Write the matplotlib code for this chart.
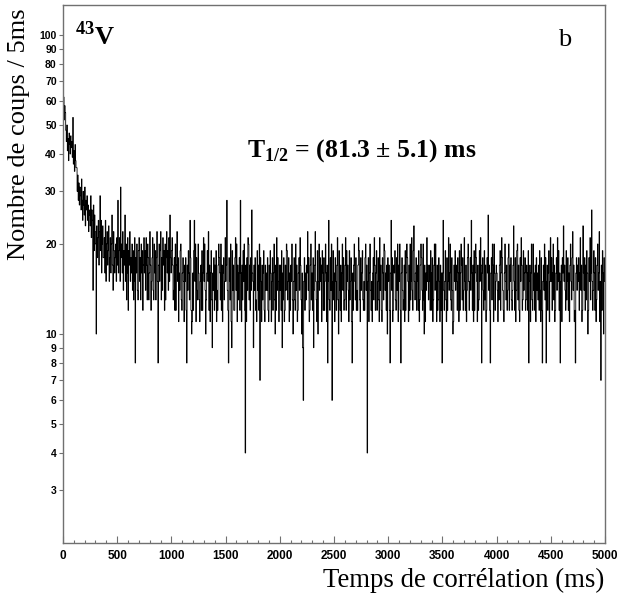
import numpy as np
import matplotlib
matplotlib.use('Agg')
import matplotlib.pyplot as plt
from matplotlib.ticker import FixedLocator, MultipleLocator

plt.rcParams['mathtext.fontset'] = 'custom'
plt.rcParams['mathtext.rm'] = 'Liberation Serif'
plt.rcParams['mathtext.bf'] = 'Liberation Serif:bold'

# counts per 5 ms bin (25 bins = 125 ms per row)
counts = [
    60, 62, 52, 58, 55, 48, 44, 50, 41, 45, 38, 47, 43, 40, 46, 42, 44, 39, 53, 37, 41, 35, 43, 38, 36,
    36, 30, 34, 28, 32, 27, 31, 29, 26, 33, 28, 24, 30, 27, 25, 31, 23, 28, 26, 29, 24, 27, 22, 25, 26,
    23, 29, 21, 26, 24, 14, 27, 19, 25, 22, 20, 10, 23, 18, 21, 24, 17, 22, 29, 19, 24, 16, 20, 23, 18,
    18, 21, 16, 24, 15, 20, 22, 17, 19, 23, 15, 18, 21, 16, 20, 25, 17, 14, 22, 19, 16, 18, 20, 15, 21,
    17, 28, 16, 19, 21, 15, 31, 18, 20, 16, 22, 14, 19, 17, 25, 15, 20, 13, 16, 21, 12, 19, 17, 22, 15,
    18, 16, 20, 14, 19, 13, 15, 21, 8, 18, 16, 20, 14, 13, 19, 21, 15, 18, 13, 20, 16, 19, 12, 17, 21,
    16, 19, 14, 21, 17, 13, 20, 18, 13, 16, 22, 17, 12, 15, 18, 21, 14, 13, 20, 16, 19, 13, 18, 22, 15,
    8, 17, 20, 15, 19, 22, 13, 18, 14, 21, 17, 19, 12, 20, 13, 18, 22, 16, 19, 14, 21, 15, 25, 18, 16,
    19, 21, 17, 13, 14, 18, 12, 20, 12, 17, 22, 15, 18, 11, 16, 14, 19, 20, 13, 12, 16, 18, 15, 11, 17,
    15, 18, 12, 8, 17, 14, 19, 16, 13, 24, 18, 12, 10, 11, 16, 12, 19, 24, 15, 20, 11, 18, 14, 13, 20,
    16, 13, 11, 15, 17, 12, 19, 12, 16, 21, 15, 20, 14, 10, 13, 16, 19, 15, 22, 12, 17, 11, 16, 19, 13,
    9, 16, 14, 18, 12, 17, 13, 19, 11, 14, 12, 17, 20, 18, 16, 13, 20, 12, 17, 11, 16, 18, 13, 15, 21,
    15, 17, 28, 14, 12, 8, 18, 15, 13, 20, 11, 9, 19, 14, 17, 12, 12, 18, 21, 14, 20, 11, 17, 13, 16,
    18, 12, 28, 16, 11, 17, 13, 19, 15, 20, 12, 4, 17, 11, 18, 14, 21, 20, 13, 17, 12, 18, 14, 26, 16,
    15, 9, 17, 14, 18, 12, 13, 11, 19, 14, 17, 12, 20, 7, 18, 15, 11, 17, 13, 16, 19, 12, 11, 17, 14,
    16, 14, 18, 12, 11, 17, 13, 19, 16, 11, 15, 18, 12, 16, 20, 13, 10, 17, 12, 21, 14, 18, 15, 11, 17,
    14, 17, 12, 19, 9, 16, 13, 18, 11, 12, 17, 14, 20, 19, 13, 15, 18, 11, 16, 12, 17, 15, 20, 13, 10,
    15, 18, 13, 12, 20, 14, 17, 11, 12, 16, 18, 14, 21, 17, 13, 10, 16, 9, 6, 15, 18, 12, 16, 13, 17,
    16, 22, 14, 18, 11, 12, 17, 20, 13, 16, 12, 18, 9, 14, 17, 22, 15, 13, 11, 19, 10, 15, 20, 14, 18,
    15, 17, 11, 19, 16, 12, 18, 12, 15, 20, 16, 11, 17, 8, 15, 24, 13, 12, 18, 14, 20, 6, 15, 19, 13,
    16, 11, 18, 15, 12, 17, 21, 13, 10, 19, 14, 12, 17, 11, 16, 20, 14, 18, 12, 13, 17, 21, 12, 19, 15,
    17, 14, 11, 19, 13, 15, 18, 11, 8, 16, 12, 17, 20, 15, 13, 18, 12, 14, 12, 17, 21, 19, 13, 11, 18,
    14, 16, 19, 13, 12, 15, 12, 18, 20, 14, 17, 4, 15, 18, 11, 16, 20, 14, 12, 15, 11, 16, 18, 13, 21,
    17, 12, 16, 19, 12, 15, 18, 13, 11, 21, 14, 17, 12, 11, 18, 16, 13, 20, 19, 14, 16, 12, 17, 10, 18,
    15, 17, 12, 8, 16, 24, 14, 18, 11, 12, 17, 16, 19, 13, 12, 18, 14, 20, 11, 17, 15, 20, 12, 8, 16,
    18, 14, 12, 13, 17, 11, 19, 12, 16, 20, 18, 15, 11, 17, 12, 20, 13, 15, 21, 14, 12, 19, 23, 15, 13,
    16, 18, 12, 17, 15, 12, 19, 11, 13, 17, 20, 18, 14, 12, 20, 13, 10, 17, 11, 16, 14, 21, 15, 17, 13,
    15, 17, 12, 19, 16, 12, 18, 11, 13, 17, 20, 14, 20, 15, 11, 17, 12, 13, 18, 15, 11, 17, 12, 16, 8,
    16, 24, 14, 12, 15, 19, 13, 11, 18, 12, 15, 21, 14, 16, 20, 13, 12, 18, 14, 10, 11, 17, 15, 19, 14,
    17, 15, 12, 18, 16, 11, 19, 12, 16, 20, 17, 13, 18, 12, 14, 21, 15, 12, 17, 11, 14, 18, 20, 15, 12,
    15, 18, 14, 24, 16, 12, 17, 11, 19, 12, 16, 20, 18, 15, 11, 17, 12, 13, 19, 15, 21, 17, 8, 16, 18,
    14, 12, 19, 13, 17, 11, 12, 18, 16, 25, 14, 17, 12, 8, 16, 18, 13, 20, 17, 11, 20, 16, 12, 15, 17,
    16, 14, 11, 15, 13, 17, 19, 12, 16, 21, 18, 14, 12, 11, 16, 20, 15, 13, 17, 12, 14, 18, 20, 12, 17,
    15, 18, 13, 12, 14, 17, 23, 15, 12, 18, 11, 14, 19, 20, 13, 17, 12, 11, 18, 15, 21, 17, 12, 13, 19,
    14, 16, 18, 12, 13, 17, 16, 12, 19, 8, 15, 17, 11, 16, 20, 13, 12, 20, 14, 16, 12, 17, 11, 18, 14,
    16, 13, 17, 12, 19, 14, 11, 18, 12, 8, 15, 17, 14, 20, 13, 18, 8, 15, 17, 12, 16, 19, 11, 15, 21,
    15, 18, 12, 16, 20, 13, 17, 11, 12, 16, 18, 14, 21, 15, 19, 12, 16, 8, 15, 17, 11, 18, 16, 23, 15,
    17, 14, 12, 19, 13, 15, 18, 12, 16, 11, 17, 20, 15, 13, 18, 22, 14, 17, 11, 12, 8, 16, 18, 14, 17,
    15, 18, 12, 16, 21, 14, 17, 11, 12, 23, 16, 14, 18, 12, 17, 13, 19, 16, 10, 12, 18, 15, 21, 13, 16,
    26, 15, 12, 14, 19, 16, 12, 18, 11, 13, 17, 20, 14, 16, 22, 11, 15, 7, 17, 12, 19, 16, 10, 18, 15,
]
bin_width = 5  # ms
y_ticks = [3, 4, 5, 6, 7, 8, 9, 10, 20, 30, 40, 50, 60, 70, 80, 90, 100]

edges = np.arange(len(counts) + 1) * bin_width

fig = plt.figure(figsize=(6.26, 6.01), dpi=100)
ax = fig.add_axes([0.1006, 0.0965, 0.8659, 0.8952])

ax.stairs(counts, edges, baseline=None, color='black', lw=0.6)

ax.set_yscale('log')
ax.set_xlim(0, 5000)
ax.set_ylim(2, 126)

# axes style (ROOT-like)
for side in ['left', 'bottom', 'top', 'right']:
    ax.spines[side].set_color('#707070')
    ax.spines[side].set_linewidth(1.0)

ax.yaxis.set_major_locator(FixedLocator(y_ticks))
ax.yaxis.set_minor_locator(FixedLocator([]))
ax.set_yticklabels([str(v) for v in y_ticks])
ax.tick_params(axis='y', which='major', direction='out', length=3, width=0.8,
               color='#707070', pad=1.5)

ax.xaxis.set_major_locator(MultipleLocator(500))
ax.xaxis.set_minor_locator(MultipleLocator(100))
ax.tick_params(axis='x', which='major', direction='in', length=5, width=0.8,
               color='#707070', pad=5)
ax.tick_params(axis='x', which='minor', direction='in', length=2.5, width=0.8,
               color='#707070')

for lab in ax.get_xticklabels():
    lab.set_fontfamily('Liberation Sans')
    lab.set_fontweight('bold')
    lab.set_fontsize(8.5)
for lab in ax.get_yticklabels():
    lab.set_fontfamily('Liberation Sans')
    lab.set_fontweight('bold')
    lab.set_fontsize(7.5)

serif = 'Liberation Serif'
fig.text(0.03, 0.986, 'Nombre de coups / 5ms', rotation=90, ha='center', va='top',
         fontsize=19, family=serif)
fig.text(0.966, 0.035, 'Temps de corrélation (ms)', ha='right', va='center',
         fontsize=19.3, family=serif)

ax.text(0.022, 0.944, r'$^{\mathbf{43}}$V', transform=ax.transAxes, ha='left', va='center',
        fontsize=19, family=serif, fontweight='bold')
ax.text(0.926, 0.935, 'b', transform=ax.transAxes, ha='center', va='center',
        fontsize=19, family=serif)
ax.text(0.339, 0.73, r'T$_{\mathbf{1/2}}$ = (81.3 ± 5.1) ms', transform=ax.transAxes,
        ha='left', va='center', fontsize=18.5, family=serif, fontweight='bold')

fig.savefig('out.png', dpi=100)
